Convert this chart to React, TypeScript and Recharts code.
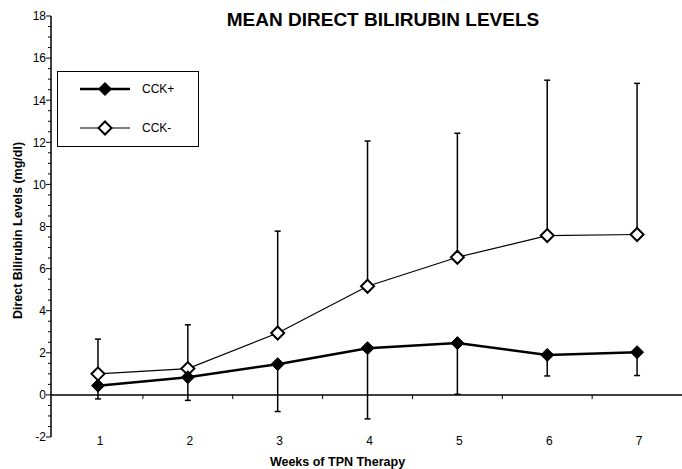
import React from "react";
import {
  LineChart,
  Line,
  XAxis,
  YAxis,
  ErrorBar,
  ReferenceLine,
  Legend,
} from "recharts";

const weeks = [1, 2, 3, 4, 5, 6, 7];
const cckPlus = [0.44, 0.84, 1.46, 2.22, 2.46, 1.9, 2.03];
const cckPlusSD = [0.63, 1.1, 2.25, 3.36, 2.43, 1.0, 1.11];
const cckMinus = [1.0, 1.25, 2.94, 5.16, 6.54, 7.57, 7.62];
const cckMinusSD = [1.65, 2.08, 4.84, 6.9, 5.89, 7.38, 7.18];
const yTicks = Array.from({ length: 41 }, (_, i) => -2 + i * 0.5);
const minorXTicks = [1.5, 2.5, 3.5, 4.5, 5.5, 6.5];

const data = weeks.map((w, i) => ({
  week: w,
  plus: cckPlus[i],
  minus: cckMinus[i],
  plusErr: [cckPlusSD[i], 0],
  minusErr: [0, cckMinusSD[i]],
}));

const FONT = "'Liberation Sans', Arial, Helvetica, sans-serif";

const Diamond = (props: any) => {
  const { cx, cy, filled } = props;
  if (cx == null || cy == null) return null;
  const r = 6.5;
  return (
    <polygon
      points={`${cx},${cy - r} ${cx + r},${cy} ${cx},${cy + r} ${cx - r},${cy}`}
      fill={filled ? "#000" : "#fff"}
      stroke="#000"
      strokeWidth={filled ? 1 : 2}
    />
  );
};

const YTick = (props: any) => {
  const { y, payload } = props;
  const v = payload.value;
  const major = Number.isInteger(v) && v % 2 === 0;
  return (
    <g>
      <line x1={51 - (major ? 5 : 3)} x2={51} y1={y} y2={y} stroke="#000" strokeWidth={1} />
      {major && (
        <text
          x={46}
          y={y}
          dy="0.36em"
          textAnchor="end"
          fontFamily={FONT}
          fontSize={12}
          fill="#000"
        >
          {v}
        </text>
      )}
    </g>
  );
};

const XTick = (props: any) => {
  const { x, payload } = props;
  return (
    <text
      x={x + 2}
      y={441}
      dy="0.36em"
      textAnchor="middle"
      fontFamily={FONT}
      fontSize={12}
      fill="#000"
    >
      {payload.value}
    </text>
  );
};

const LegendContent = () => (
  <div
    style={{
      width: 140,
      height: 74,
      border: "1.5px solid #000",
      background: "#fff",
      position: "relative",
      fontFamily: FONT,
      fontSize: 12,
    }}
  >
    <svg width={140} height={74} style={{ position: "absolute", left: 0, top: 0 }}>
      <line x1={22} x2={72} y1={17} y2={17} stroke="#000" strokeWidth={2.5} />
      <Diamond cx={47} cy={17} filled />
      <text x={84} y={17} dy="0.36em" fontFamily={FONT} fontSize={12}>CCK+</text>
      <line x1={22} x2={72} y1={56} y2={56} stroke="#000" strokeWidth={1.2} />
      <Diamond cx={47} cy={56} filled={false} />
      <text x={84} y={56} dy="0.36em" fontFamily={FONT} fontSize={12}>CCK-</text>
    </svg>
  </div>
);

export default function App() {
  return (
    <div style={{ position: "absolute", left: 0, top: 0, width: 682, height: 469, background: "#fff" }}>
      <div
        style={{
          position: "absolute",
          left: 0,
          width: 766,
          top: 9,
          textAlign: "center",
          fontFamily: FONT,
          fontWeight: "bold",
          fontSize: 19,
          lineHeight: "22px",
          color: "#000",
          zIndex: 2,
        }}
      >
        MEAN DIRECT BILIRUBIN LEVELS
      </div>
      <LineChart
        width={682}
        height={469}
        data={data}
        margin={{ top: 16, right: 0, bottom: 0, left: 0 }}
      >
        <XAxis
          dataKey="week"
          type="number"
          domain={[0.477, 7.5]}
          ticks={weeks}
          allowDataOverflow
          axisLine={false}
          tickLine={false}
          height={32}
          tick={<XTick />}
          interval={0}
          label={{
            value: "Weeks of TPN Therapy",
            position: "insideBottom",
            offset: 0,
            dx: -29,
            dy: -3,
            style: { fontFamily: FONT, fontWeight: "bold", fontSize: 12.5, fill: "#000" },
          }}
        />
        <YAxis
          type="number"
          domain={[-2, 18]}
          ticks={yTicks}
          interval={0}
          width={51}
          tickLine={false}
          axisLine={{ stroke: "#000", strokeWidth: 1.5 }}
          tick={<YTick />}
          label={{
            value: "Direct Bilirubin Levels (mg/dl)",
            angle: -90,
            position: "center",
            dx: -8,
            dy: 4,
            style: { fontFamily: FONT, fontWeight: "bold", fontSize: 12.5, fill: "#000", textAnchor: "middle" },
          }}
        />
        <ReferenceLine y={0} stroke="#000" strokeWidth={1.5} />
        {minorXTicks.map((t) => (
          <ReferenceLine
            key={t}
            segment={[
              { x: t, y: 0 },
              { x: t, y: -0.2 },
            ]}
            stroke="#000"
            strokeWidth={1}
          />
        ))}
        <Legend
          layout="horizontal"
          verticalAlign="middle"
          align="center"
          content={<LegendContent />}
          wrapperStyle={{ position: "absolute", left: 57, top: 71, width: 142, height: 76 }}
        />
        <Line
          dataKey="minus"
          stroke="#000"
          strokeWidth={1.2}
          isAnimationActive={false}
          dot={<Diamond filled={false} />}
          activeDot={false}
        >
          <ErrorBar dataKey="minusErr" direction="y" width={3} stroke="#000" strokeWidth={1.5} isAnimationActive={false} />
        </Line>
        <Line
          dataKey="plus"
          stroke="#000"
          strokeWidth={2.5}
          isAnimationActive={false}
          dot={<Diamond filled />}
          activeDot={false}
        >
          <ErrorBar dataKey="plusErr" direction="y" width={3} stroke="#000" strokeWidth={1.5} isAnimationActive={false} />
        </Line>
      </LineChart>
    </div>
  );
}
